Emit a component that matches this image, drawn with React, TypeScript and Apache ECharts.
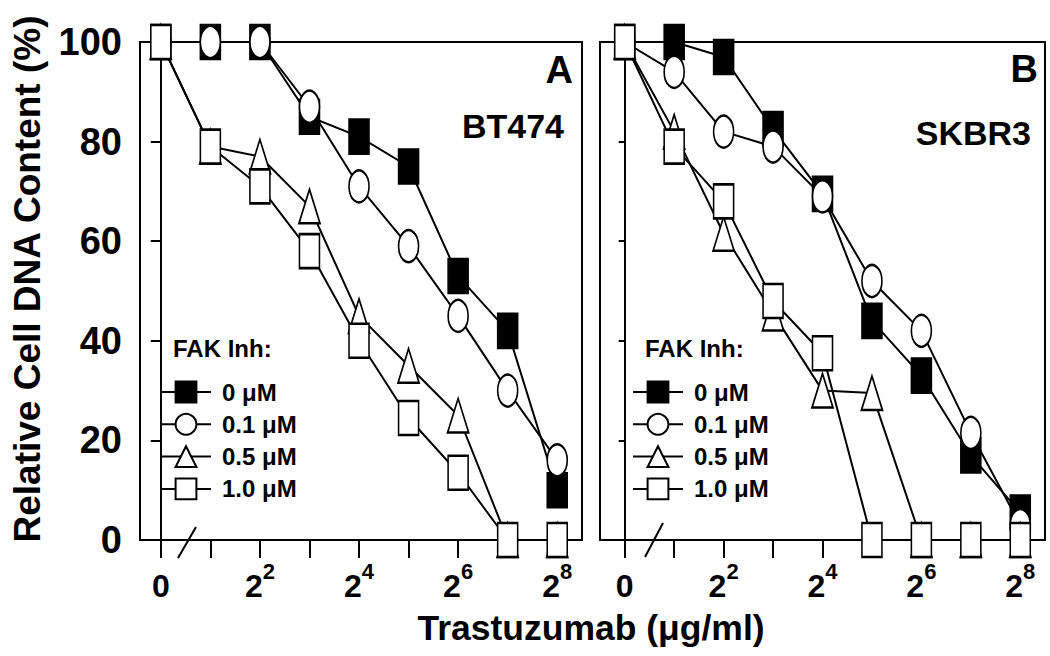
import React, { useEffect, useRef } from "react";
import * as echarts from "echarts";

// ---- data ----
// Trastuzumab doses (µg/ml); plotted on a log2 scale, control (0) at position 0
const doses = [0, 2, 4, 8, 16, 32, 64, 128, 256];
const xTickValues = [0, 1, 2, 3, 4, 5, 6, 7, 8];
const xLabelValues = [0, 2, 4, 6, 8];
const xTickLabels = ["0", "2^2", "2^4", "2^6", "2^8"];

const seriesNames = ["0 \u03bcM", "0.1 \u03bcM", "0.5 \u03bcM", "1.0 \u03bcM"];

// Panel A: BT474
const bt474_0 = [100, 100, 100, 85, 81, 75, 53, 42, 10];
const bt474_01 = [100, 100, 100, 87, 71, 59, 45, 30, 16];
const bt474_05 = [100, 79, 77, 67, 45, 35, 25, 0, 0];
const bt474_10 = [100, 79, 71, 58, 40, 24.5, 13.5, 0, 0];

// Panel B: SKBR3
const skbr3_0 = [100, 100, 97, 82.5, 69.5, 44, 33, 17, 5.5];
const skbr3_01 = [100, 94, 82, 79, 69, 52, 42, 21.5, 3];
const skbr3_05 = [100, 82, 61.5, 45.5, 30, 29.5, 0, 0, 0];
const skbr3_10 = [100, 79, 68, 48, 37.5, 0, 0, 0, 0];

const panels = [
  { label: "A", cell: "BT474", values: [bt474_0, bt474_01, bt474_05, bt474_10] },
  { label: "B", cell: "SKBR3", values: [skbr3_0, skbr3_01, skbr3_05, skbr3_10] },
];

const FONT = "'Liberation Sans', Arial, Helvetica, sans-serif";

const symbols = ["rect", "circle", "triangle", "rect"];
const symbolSizes: any[] = [[20, 34], [20, 32], [21, 34], [20, 34]];
const fills = ["#000", "#fff", "#fff", "#fff"];

function dosePos(d: number) {
  return d === 0 ? 0 : Math.log2(d);
}

export default function App() {
  const ref = useRef<HTMLDivElement>(null);
  useEffect(() => {
    if (!ref.current) return;
    const chart = echarts.init(ref.current, null, { renderer: "svg" });

    const grids = [
      { left: 140, top: 42, width: 442, height: 498 },
      { left: 600, top: 42, width: 445, height: 498 },
    ];
    const xMins = [-0.42, -0.5];

    const xAxes = grids.map((_, i) => ({
      type: "value",
      gridIndex: i,
      min: xMins[i],
      max: 8.5,
      axisLine: { show: true, lineStyle: { color: "#000", width: 2 } },
      axisTick: {
        show: true,
        length: 18,
        customValues: xTickValues,
        lineStyle: { color: "#000", width: 2 },
      },
      axisLabel: {
        show: true,
        customValues: xLabelValues,
        margin: 20,
        formatter: (v: number) => {
          const idx = xLabelValues.indexOf(v);
          const t = xTickLabels[idx] || "";
          if (t.indexOf("^") < 0) return "{b|" + t + "}";
          const [base, exp] = t.split("^");
          return "{b|" + base + "}{s|" + exp + "}";
        },
        rich: {
          b: {
            fontSize: 32,
            fontWeight: "bold",
            fontFamily: FONT,
            color: "#000",
            lineHeight: 42,
            verticalAlign: "bottom",
          },
          s: {
            fontSize: 22,
            fontWeight: "bold",
            fontFamily: FONT,
            color: "#000",
            lineHeight: 22,
            verticalAlign: "top",
          },
        },
      },
      splitLine: { show: false },
    }));

    const yAxes = grids.map((_, i) => ({
      type: "value",
      gridIndex: i,
      min: 0,
      max: 100,
      interval: 20,
      axisLine: { show: true, lineStyle: { color: "#000", width: 2 } },
      axisTick: { show: true, length: i === 0 ? 10 : 6, lineStyle: { color: "#000", width: 2 } },
      axisLabel: {
        show: i === 0,
        fontSize: 38,
        fontWeight: "bold",
        fontFamily: FONT,
        color: "#000",
        margin: 18,
      },
      splitLine: { show: false },
    }));

    const series: any[] = [];
    panels.forEach((p, pi) => {
      p.values.forEach((vals, k) => {
        series.push({
          type: "line",
          name: seriesNames[k],
          xAxisIndex: pi,
          yAxisIndex: pi,
          data: doses.map((d, i) => [dosePos(d), vals[i]]),
          symbol: symbols[k],
          symbolSize: symbolSizes[k],
          clip: false,
          silent: true,
          lineStyle: { color: "#000", width: 2 },
          itemStyle: { color: fills[k], borderColor: "#000", borderWidth: 2 },
          emphasis: { disabled: true },
        });
      });
    });

    const legendLefts = [160, 632];
    const legends = legendLefts.map((left) => ({
      data: seriesNames,
      orient: "vertical",
      left,
      top: 380,
      padding: 0,
      itemWidth: 50,
      itemHeight: 26,
      itemGap: 8.3,
      selectedMode: false,
      formatter: (name: string) => "{t|" + name + "}",
      textStyle: {
        rich: {
          t: {
            fontSize: 24,
            fontWeight: "bold",
            fontFamily: FONT,
            color: "#000",
            padding: [0, 0, 0, 6],
          },
        },
      },
    }));

    const txt = (x: number, y: number, text: string, size: number, align: string, extra: any = {}) => ({
      type: "text",
      x,
      y,
      silent: true,
      ...extra,
      style: {
        text,
        fontSize: size,
        fontWeight: "bold",
        fontFamily: FONT,
        fill: "#000",
        textAlign: align,
        textVerticalAlign: "middle",
      },
    });

    const graphicEls: any[] = [
      txt(27, 279, "Relative Cell DNA Content (%)", 37, "center", { rotation: Math.PI / 2 }),
      txt(591, 628, "Trastuzumab (\u03bcg/ml)", 35.5, "center"),
      txt(573, 70, panels[0].label, 38, "right"),
      txt(564, 126, panels[0].cell, 34, "right"),
      txt(1038, 69, panels[1].label, 38, "right"),
      txt(1031, 133, panels[1].cell, 34, "right"),
      txt(173, 348, "FAK Inh:", 24, "left"),
      txt(645, 348, "FAK Inh:", 24, "left"),
      {
        type: "line",
        silent: true,
        shape: { x1: 178, y1: 558, x2: 196, y2: 527 },
        style: { stroke: "#000", lineWidth: 2 },
      },
      {
        type: "line",
        silent: true,
        shape: { x1: 645, y1: 557, x2: 663, y2: 523 },
        style: { stroke: "#000", lineWidth: 2 },
      },
    ];

    chart.setOption({
      animation: false,
      backgroundColor: "#fff",
      grid: grids.map((g) => ({
        ...g,
        show: true,
        borderColor: "#000",
        borderWidth: 2,
        backgroundColor: "transparent",
        containLabel: false,
      })),
      xAxis: xAxes,
      yAxis: yAxes,
      legend: legends,
      series,
      graphic: { elements: graphicEls },
    });

    return () => chart.dispose();
  }, []);

  return (
    <div
      ref={ref}
      style={{ position: "fixed", left: 0, top: 0, width: 1050, height: 656, background: "#fff" }}
    />
  );
}
